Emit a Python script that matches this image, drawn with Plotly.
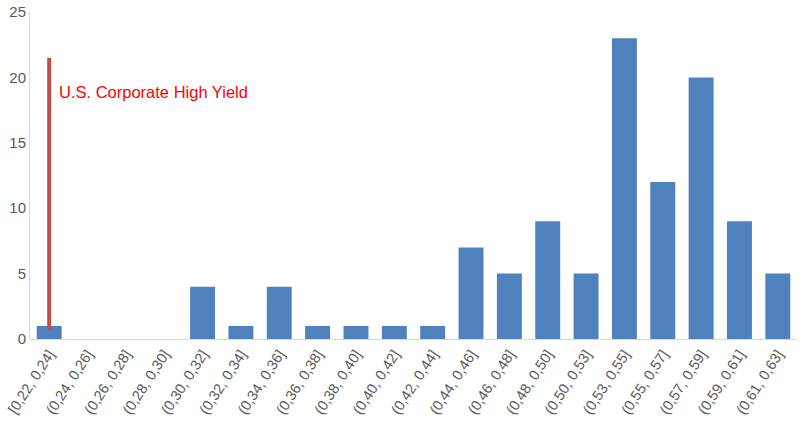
import plotly.graph_objects as go

categories = ["[0,22, 0,24]", "(0,24, 0,26]", "(0,26, 0,28]", "(0,28, 0,30]", "(0,30, 0,32]",
              "(0,32, 0,34]", "(0,34, 0,36]", "(0,36, 0,38]", "(0,38, 0,40]", "(0,40, 0,42]",
              "(0,42, 0,44]", "(0,44, 0,46]", "(0,46, 0,48]", "(0,48, 0,50]", "(0,50, 0,53]",
              "(0,53, 0,55]", "(0,55, 0,57]", "(0,57, 0,59]", "(0,59, 0,61]", "(0,61, 0,63]"]
counts = [1, 0, 0, 0, 4, 1, 4, 1, 1, 1, 1, 7, 5, 9, 5, 23, 12, 20, 9, 5]

marker_category = "[0,22, 0,24]"
marker_range = [0.7, 21.5]
marker_label = "U.S. Corporate High Yield"
marker_label_y = 18.9

fig = go.Figure()
fig.add_trace(go.Bar(x=categories, y=counts, marker_color="#4F81BD", marker_line_width=0,
                     width=0.65, showlegend=False))
fig.add_trace(go.Scatter(x=[marker_category, marker_category], y=marker_range, mode="lines",
                         line=dict(color="#C0504D", width=4), showlegend=False, hoverinfo="skip"))
fig.add_annotation(x=marker_category, y=marker_label_y, text=marker_label, showarrow=False,
                   xanchor="left", yanchor="middle", xshift=8,
                   font=dict(color="#FF0000", size=16.5, family="Liberation Sans"))

fig.update_layout(
    width=802, height=430,
    margin=dict(l=30, r=5, t=12, b=91),
    plot_bgcolor="white", paper_bgcolor="white",
    font=dict(family="Liberation Sans", color="#595959", size=13),
    xaxis=dict(type="category", tickangle=-57, showline=True, linecolor="#D9D9D9", linewidth=1,
               showgrid=False, ticks="", tickfont=dict(size=14.5), range=[-0.5, 19.5],
               automargin=False),
    yaxis=dict(range=[0, 25], dtick=5, showline=True, linecolor="#D9D9D9", linewidth=1,
               showgrid=False, zeroline=False, ticks="", tickfont=dict(size=15),
               automargin=False),
)
fig.write_html("out.html", config={"displayModeBar": False},
               post_script="document.body.style.margin='0';document.body.style.overflow='hidden';")
